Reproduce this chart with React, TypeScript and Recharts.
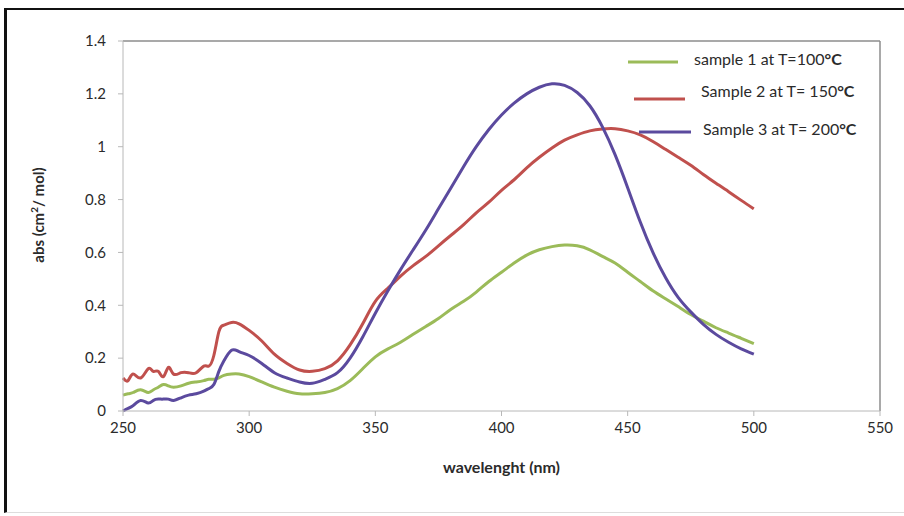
import React from "react";
import {
  LineChart,
  Line,
  XAxis,
  YAxis,
  ReferenceLine,
  Label,
} from "recharts";

// wavelength (nm) sample points
const wavelengths = [
  250, 252, 254, 257, 260, 262, 264, 266, 268, 270, 273, 276, 279, 282, 284, 286,
  288, 290, 293, 296, 300, 305, 310, 315, 320, 325, 330, 335, 340, 345, 350, 355,
  360, 365, 370, 375, 380, 385, 390, 395, 400, 405, 410, 415, 420, 425, 430, 435,
  440, 445, 450, 455, 460, 465, 470, 475, 480, 485, 490, 495, 500,
];

// sample 1 at T=100 °C
const sample1 = [
  0.06, 0.065, 0.07, 0.08, 0.07, 0.08, 0.09, 0.1, 0.095, 0.09, 0.095, 0.105, 0.11, 0.115, 0.12, 0.12,
  0.125, 0.135, 0.14, 0.14, 0.13, 0.11, 0.09, 0.075, 0.065, 0.065, 0.07, 0.085, 0.115, 0.16, 0.205, 0.235,
  0.26, 0.29, 0.32, 0.35, 0.385, 0.415, 0.45, 0.49, 0.525, 0.56, 0.59, 0.61, 0.622, 0.628, 0.625, 0.61,
  0.585, 0.56, 0.525, 0.49, 0.455, 0.425, 0.395, 0.365, 0.34, 0.315, 0.295, 0.275, 0.255,
];

// sample 2 at T=150 °C
const sample2 = [
  0.125, 0.115, 0.14, 0.125, 0.16, 0.15, 0.15, 0.13, 0.165, 0.14, 0.145, 0.145, 0.145, 0.17, 0.17, 0.21,
  0.3, 0.325, 0.335, 0.33, 0.305, 0.265, 0.215, 0.18, 0.155, 0.15, 0.16, 0.19, 0.25, 0.33, 0.415, 0.465,
  0.51, 0.55, 0.585, 0.625, 0.665, 0.705, 0.75, 0.79, 0.835, 0.875, 0.92, 0.96, 0.995, 1.025, 1.045, 1.06,
  1.067, 1.068, 1.06, 1.045, 1.02, 0.99, 0.96, 0.93, 0.895, 0.862, 0.83, 0.797, 0.765,
];

// sample 3 at T=200 °C
const sample3 = [
  0.0, 0.01, 0.02, 0.04, 0.03, 0.04, 0.045, 0.045, 0.045, 0.04, 0.05, 0.06, 0.065, 0.075, 0.085, 0.1,
  0.15, 0.19, 0.23, 0.225, 0.21, 0.18, 0.145, 0.125, 0.11, 0.105, 0.12, 0.145, 0.2, 0.28, 0.37, 0.455,
  0.535, 0.61, 0.685, 0.765, 0.845, 0.925, 1.0, 1.065, 1.12, 1.165, 1.2, 1.225, 1.238, 1.232, 1.205, 1.155,
  1.075, 0.97, 0.845, 0.715, 0.6, 0.505, 0.43, 0.375, 0.328, 0.29, 0.26, 0.235, 0.215,
];

const xTicks = [250, 300, 350, 400, 450, 500, 550];
const yTicks = [0, 0.2, 0.4, 0.6, 0.8, 1, 1.2, 1.4];

const series = [
  { key: "s1", temp: "sample 1 at T=100", color: "#9bbb59" },
  { key: "s2", temp: "Sample 2 at T= 150", color: "#c0504d" },
  { key: "s3", temp: "Sample 3 at T= 200", color: "#5b4a9e" },
];

const data = wavelengths.map((w, i) => ({
  w,
  s1: sample1[i],
  s2: sample2[i],
  s3: sample3[i],
}));

const FONT = "Lato, 'Open Sans', sans-serif";
const AXIS_GRAY = "#b8b8b8";
const TEXT = "#2b2b2b";

// legend positions roughly as in the original Excel chart
const legendRows = [
  { lineX: 628, lineW: 50, y: 62, textX: 694, dy: -1 },
  { lineX: 634, lineW: 51, y: 99, textX: 701, dy: -6 },
  { lineX: 639, lineW: 52, y: 132, textX: 703, dy: -1 },
];

export default function App() {
  return (
    <div
      style={{
        position: "absolute",
        left: 0,
        top: 0,
        width: 904,
        height: 516,
        overflow: "hidden",
        background: "#fff",
        fontFamily: FONT,
      }}
    >
      {/* outer frame */}
      <div
        style={{
          position: "absolute",
          left: 4,
          top: 8,
          width: 940,
          height: 502,
          borderTop: "2px solid #111",
          borderLeft: "3px solid #111",
          borderBottom: "1px solid #ddd",
        }}
      />

      <div style={{ position: "absolute", left: 0, top: 0 }}>
        <LineChart
          width={904}
          height={516}
          data={data}
          margin={{ top: 41, right: 24, left: 0, bottom: 75 }}
        >
          <XAxis
            dataKey="w"
            type="number"
            domain={[250, 550]}
            ticks={xTicks}
            tick={{ fontSize: 15, fill: TEXT, fontFamily: FONT }}
            stroke={AXIS_GRAY}
            tickLine={{ stroke: AXIS_GRAY }}
            tickSize={5}
            tickMargin={6}
            height={30}
          >
            <Label
              content={(props: any) => {
                const vb = props.viewBox;
                return (
                  <text
                    x={vb.x + vb.width / 2}
                    y={vb.y + 62}
                    textAnchor="middle"
                    fontSize={16}
                    fontWeight="bold"
                    fill={TEXT}
                    fontFamily={FONT}
                  >
                    wavelenght (nm)
                  </text>
                );
              }}
            />
          </XAxis>
          <YAxis
            type="number"
            domain={[0, 1.4]}
            ticks={yTicks}
            width={123}
            tick={{ fontSize: 15, fill: TEXT, fontFamily: FONT }}
            stroke={AXIS_GRAY}
            tickLine={{ stroke: AXIS_GRAY }}
            tickSize={5}
            tickMargin={12}
          >
            <Label
              content={(props: any) => {
                const vb = props.viewBox;
                const cx = vb.x + 40;
                const cy = vb.y + vb.height / 2 - 11;
                return (
                  <text
                    x={cx}
                    y={cy}
                    transform={`rotate(-90 ${cx} ${cy})`}
                    textAnchor="middle"
                    dominantBaseline="middle"
                    fontSize={15}
                    fontWeight="bold"
                    fill={TEXT}
                    fontFamily={FONT}
                  >
                    abs (cm
                    <tspan fontSize={10} dy={-5}>2</tspan>
                    <tspan dy={5}>/ mol)</tspan>
                  </text>
                );
              }}
            />
          </YAxis>

          {/* plot area border (top + right) */}
          <ReferenceLine y={1.4} stroke="#8c8c8c" strokeWidth={1.5} />
          <ReferenceLine x={550} stroke="#8c8c8c" strokeWidth={1.5} />

          {series.map((s) => (
            <Line
              key={s.key}
              type="natural"
              dataKey={s.key}
              stroke={s.color}
              strokeWidth={3}
              dot={false}
              activeDot={false}
              isAnimationActive={false}
            />
          ))}
        </LineChart>
      </div>

      {/* legend */}
      <svg
        width={904}
        height={516}
        style={{ position: "absolute", left: 0, top: 0, pointerEvents: "none" }}
      >
        {series.map((s, i) => {
          const r = legendRows[i];
          return (
            <g key={s.key}>
              <line
                x1={r.lineX}
                x2={r.lineX + r.lineW}
                y1={r.y}
                y2={r.y}
                stroke={s.color}
                strokeWidth={3}
              />
              <text
                x={r.textX}
                y={r.y + r.dy}
                dominantBaseline="middle"
                fontSize={16}
                fill={TEXT}
                fontFamily={FONT}
              >
                {s.temp}
                <tspan fontWeight="bold">°C</tspan>
              </text>
            </g>
          );
        })}
      </svg>
    </div>
  );
}
